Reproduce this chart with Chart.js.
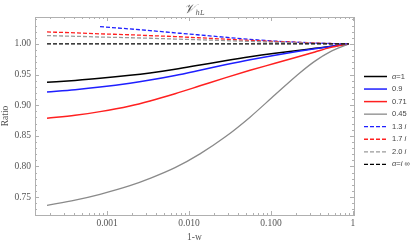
<!DOCTYPE html>
<html><head><meta charset="utf-8">
<script src="https://cdn.jsdelivr.net/npm/chart.js@4.4.0/dist/chart.umd.min.js"></script>
<style>html,body{margin:0;padding:0;background:#fff;}#wrap{width:415px;height:243px;}</style>
</head><body><div id="wrap"><canvas id="c" width="415" height="243"></canvas></div>
<script>
// 1 - w values (shared grid)
const xVals = [0.000185, 0.000407, 0.00082, 0.0019, 0.00334, 0.00675, 0.0136, 0.0275, 0.0555, 0.112, 0.226, 0.344, 0.525, 0.893];
const alpha1   = [0.9374, 0.9405, 0.9438, 0.9487, 0.9527, 0.9587, 0.9656, 0.9726, 0.9791, 0.9848, 0.9899, 0.9928, 0.9958, 1.0];
const alpha09  = [0.9216, 0.9254, 0.9296, 0.9359, 0.9411, 0.9486, 0.9571, 0.9659, 0.9742, 0.9817, 0.9885, 0.9922, 0.9957, 1.0];
const alpha071 = [0.8786, 0.8835, 0.8895, 0.8988, 0.9070, 0.9188, 0.9316, 0.9446, 0.9569, 0.9684, 0.9800, 0.9870, 0.9940, 1.0];
const alpha045 = [0.7364, 0.7450, 0.7545, 0.7685, 0.7805, 0.7980, 0.8205, 0.8480, 0.8805, 0.9170, 0.9530, 0.9720, 0.9870, 1.0];
const alpha13i = [null, null, 1.0283, 1.0245, 1.0218, 1.0182, 1.0146, 1.0110, 1.0075, 1.0047, 1.0026, 1.0015, 1.0007, 1.0];
const alpha17i = [1.0196, 1.0181, 1.0165, 1.0150, 1.0136, 1.0120, 1.0100, 1.0078, 1.0058, 1.0040, 1.0025, 1.0015, 1.0007, 1.0];
const alpha20i = [1.0136, 1.0125, 1.0113, 1.0102, 1.0093, 1.0080, 1.0068, 1.0055, 1.0041, 1.0028, 1.0017, 1.0010, 1.0005, 1.0];
const alphaInf = [1.0, 1.0, 1.0, 1.0, 1.0, 1.0, 1.0, 1.0, 1.0, 1.0, 1.0, 1.0, 1.0, 1.0];
const seriesLabels = ["α=1", "0.9", "0.71", "0.45", "1.3 i", "1.7 i", "2.0 i", "α=i ∞"];
const xTickValues = [0.001, 0.01, 0.1, 1];
const xTickLabels = ["0.001", "0.010", "0.100", "1"];
const yTickValues = [0.75, 0.80, 0.85, 0.90, 0.95, 1.00];

const seriesData = [alpha1, alpha09, alpha071, alpha045, alpha13i, alpha17i, alpha20i, alphaInf];
const colors = ["#000000", "#1f1fff", "#ff2020", "#8a8a8a", "#1f1fff", "#ff2020", "#9a9a9a", "#000000"];
const dashes = [[], [], [], [], [4, 2], [4, 2], [4, 2], [4, 2]];
const widths = [1.5, 1.5, 1.5, 1.3, 1.3, 1.3, 1.3, 1.3];

const datasets = seriesData.map((arr, i) => ({
  label: seriesLabels[i],
  data: xVals.map((x, j) => ({x: x, y: arr[j]})),
  borderColor: colors[i],
  backgroundColor: colors[i],
  borderWidth: widths[i],
  borderDash: dashes[i],
  pointRadius: 0,
  fill: false,
  cubicInterpolationMode: 'monotone',
  spanGaps: false
}));
datasets.forEach((d, i) => d.order = 10 - i);

const tickColor = '#555';
const frameColor = '#b0b0b0';

const framePlugin = {
  id: 'frame',
  afterDraw(chart) {
    const ctx = chart.ctx, a = chart.chartArea;
    const xs = chart.scales.x, ys = chart.scales.y;
    ctx.save();
    ctx.strokeStyle = frameColor;
    ctx.lineWidth = 1;
    ctx.setLineDash([]);
    ctx.strokeRect(Math.round(a.left) + 0.5, Math.round(a.top) + 0.5, Math.round(a.right - a.left), Math.round(a.bottom - a.top));
    const drawX = (v, len) => {
      const p = Math.round(xs.getPixelForValue(v)) + 0.5;
      if (p < a.left || p > a.right) return;
      ctx.beginPath();
      ctx.moveTo(p, a.bottom); ctx.lineTo(p, a.bottom - len);
      ctx.moveTo(p, a.top); ctx.lineTo(p, a.top + len);
      ctx.stroke();
    };
    for (let e = -4; e <= 0; e++) {
      for (let m = 1; m <= 9; m++) {
        drawX(m * Math.pow(10, e), m === 1 ? 4 : 2);
      }
    }
    const drawY = (v, len) => {
      const p = Math.round(ys.getPixelForValue(v)) + 0.5;
      if (p < a.top || p > a.bottom) return;
      ctx.beginPath();
      ctx.moveTo(a.left, p); ctx.lineTo(a.left + len, p);
      ctx.moveTo(a.right, p); ctx.lineTo(a.right - len, p);
      ctx.stroke();
    };
    for (let k = 72; k <= 104; k++) {
      drawY(k / 100, k % 5 === 0 ? 4 : 2);
    }
    // title
    const cx = (a.left + a.right) / 2;
    ctx.fillStyle = '#555';
    ctx.textBaseline = 'alphabetic';
    ctx.font = 'italic 13px "DejaVu Serif", serif';
    const tV = '𝒱';
    const w1 = ctx.measureText(tV).width;
    ctx.font = 'italic 7px "DejaVu Serif", serif';
    const tS = 'hL';
    const w2 = ctx.measureText(tS).width;
    const sx = cx - (w1 + w2) / 2;
    ctx.font = 'italic 13px "DejaVu Serif", serif';
    ctx.fillText(tV, sx, 13);
    ctx.font = 'italic 7px "DejaVu Serif", serif';
    ctx.fillText(tS, sx + w1, 15);
    // legend
    const lx0 = 364, lx1 = 387, tx = 392;
    let ly = 76.5;
    chart.data.datasets.forEach((d) => {
      ctx.strokeStyle = d.borderColor;
      ctx.lineWidth = d.borderWidth;
      ctx.setLineDash(d.borderDash || []);
      ctx.beginPath();
      ctx.moveTo(lx0, ly); ctx.lineTo(lx1, ly);
      ctx.stroke();
      ctx.setLineDash([]);
      let x = tx;
      ctx.fillStyle = '#444';
      ctx.textBaseline = 'middle';
      for (const ch of d.label) {
        const it = (ch === 'α' || ch === 'i');
        ctx.font = (it ? 'italic ' : '') + '7.5px "Liberation Sans", sans-serif';
        ctx.fillText(ch, x, ly);
        x += ctx.measureText(ch).width;
      }
      ly += 12.55;
    });
    ctx.restore();
  }
};

new Chart(document.getElementById('c'), {
  type: 'line',
  data: { datasets: datasets },
  options: {
    responsive: false,
    animation: false,
    devicePixelRatio: 1,
    layout: { padding: { left: 0, right: 61, top: 17, bottom: 0 } },
    plugins: { legend: { display: false }, title: { display: false }, tooltip: { enabled: false } },
    scales: {
      x: {
        type: 'logarithmic',
        min: 0.000132,
        max: 1.03,
        afterBuildTicks: (s) => { s.ticks = xTickValues.map(v => ({value: v})); },
        afterFit: (s) => { s.height = 28; },
        grid: { display: false, drawTicks: false },
        border: { display: false },
        ticks: {
          autoSkip: false, maxRotation: 0, padding: 3,
          color: tickColor,
          font: { family: '"Liberation Serif", "Times New Roman", serif', size: 9.5 },
          callback: (v) => { const i = xTickValues.findIndex(t => Math.abs(t - v) / t < 1e-6); return i >= 0 ? xTickLabels[i] : ''; }
        },
        title: { display: true, text: '1-w', color: tickColor, padding: { top: 0, bottom: 0 },
          font: { family: '"Liberation Serif", "Times New Roman", serif', size: 9.5 } }
      },
      y: {
        type: 'linear',
        min: 0.7207,
        max: 1.044,
        afterBuildTicks: (s) => { s.ticks = yTickValues.map(v => ({value: v})); },
        afterFit: (s) => { s.width = 35; },
        grid: { display: false, drawTicks: false },
        border: { display: false },
        ticks: {
          padding: 4,
          color: tickColor,
          font: { family: '"Liberation Serif", "Times New Roman", serif', size: 9.5 },
          callback: (v) => Number(v).toFixed(2)
        },
        title: { display: true, text: 'Ratio', color: tickColor, padding: { top: 0, bottom: 0 },
          font: { family: '"Liberation Serif", "Times New Roman", serif', size: 9.5 } }
      }
    }
  },
  plugins: [framePlugin]
});
</script>
</body></html>
